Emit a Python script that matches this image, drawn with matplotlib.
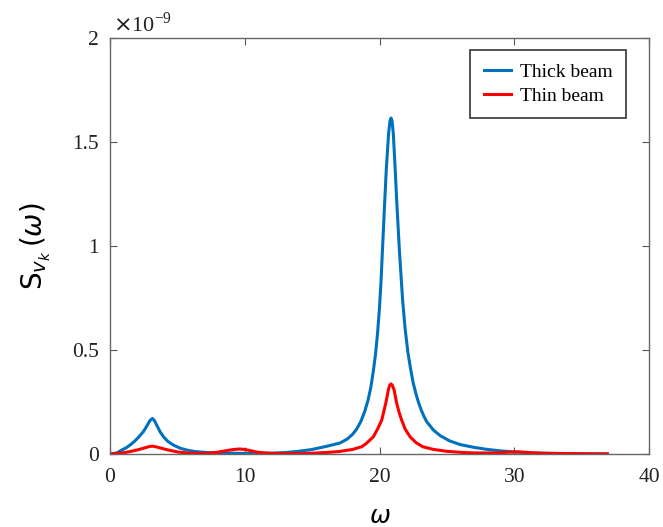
import matplotlib
matplotlib.use("Agg")
import matplotlib.pyplot as plt

# spectral density values, units of 1e-9
w_thick = [0, 0.5, 0.87, 1.2, 1.48, 1.8, 2.1, 2.47, 2.77, 2.95, 3.14, 3.3, 3.46, 3.71, 4.0,
           4.3, 4.7, 5.2, 5.7, 6.3, 7, 8, 9, 10, 11, 12, 13, 14, 15, 16, 17.07, 17.6, 18.0,
           18.3, 18.6, 18.9, 19.15, 19.35, 19.54, 19.7, 19.85, 19.99, 20.1, 20.2, 20.35, 20.5,
           20.67, 20.77, 20.85, 20.93, 21.02, 21.15, 21.27, 21.47, 21.71, 21.9, 22.1, 22.3,
           22.5, 22.7, 22.88, 23.1, 23.3, 23.5, 24.0, 24.5, 25.2, 26, 27, 28, 29, 30, 31, 32,
           33, 34, 35, 36, 36.9]
s_thick = [0, 0.005, 0.019, 0.03, 0.043, 0.06, 0.08, 0.107, 0.139, 0.16, 0.171, 0.16, 0.139,
           0.107, 0.08, 0.06, 0.043, 0.028, 0.019, 0.012, 0.008, 0.005, 0.004, 0.003, 0.003,
           0.004, 0.007, 0.013, 0.022, 0.036, 0.053, 0.072, 0.095, 0.12, 0.155, 0.205, 0.26,
           0.32, 0.40, 0.48, 0.58, 0.70, 0.82, 0.96, 1.17, 1.37, 1.54, 1.60, 1.615, 1.60,
           1.54, 1.38, 1.22, 0.98, 0.74, 0.60, 0.49, 0.41, 0.34, 0.29, 0.25, 0.21, 0.18,
           0.155, 0.115, 0.088, 0.063, 0.045, 0.032, 0.022, 0.015, 0.01, 0.006, 0.004, 0.003,
           0.002, 0.001, 0.0005, 0]

w_thin = [0, 1.0, 1.5, 1.98, 2.5, 2.85, 3.14, 3.45, 3.9, 4.33, 5.0, 5.7, 6.5, 7.3, 8, 8.7, 9.2,
          9.6, 10.0, 10.5, 11, 12, 13, 14, 15, 16, 17, 18, 18.67, 19.0, 19.54, 19.85, 20.16,
          20.46, 20.65, 20.75, 20.85, 20.95, 21.08, 21.27, 21.45, 21.64, 21.9, 22.26, 22.7,
          23.2, 24, 25, 26, 27, 28, 29, 29.7, 30.2, 30.7, 31.5, 32.5, 34, 35.5, 36.9]
s_thin = [0, 0.006, 0.012, 0.019, 0.028, 0.035, 0.038, 0.034, 0.026, 0.019, 0.01, 0.005,
          0.003, 0.004, 0.009, 0.017, 0.022, 0.024, 0.022, 0.015, 0.008, 0.003, 0.002, 0.002,
          0.004, 0.007, 0.012, 0.022, 0.035, 0.05, 0.083, 0.12, 0.163, 0.244, 0.308, 0.33,
          0.337, 0.33, 0.308, 0.244, 0.20, 0.163, 0.12, 0.083, 0.055, 0.035, 0.022, 0.013,
          0.008, 0.005, 0.005, 0.006, 0.009, 0.01, 0.009, 0.005, 0.003, 0.002, 0.001, 0.0005]

xticks = [0, 10, 20, 30, 40]
yticks = [0, 0.5, 1, 1.5, 2]
ytick_labels = ["0", "0.5", "1", "1.5", "2"]

plt.rcParams["font.family"] = ["Liberation Serif", "DejaVu Serif"]

fig = plt.figure(figsize=(6.63, 5.27), dpi=100)
ax = fig.add_axes([0.166, 0.1385, 0.813, 0.7895])

ax.plot(w_thick, s_thick, color="#0072BD", lw=2.2, label="Thick beam",
        solid_joinstyle="round")
ax.plot(w_thin, s_thin, color="#FF0000", lw=2.2, label="Thin beam",
        solid_joinstyle="round")

ax.set_xlim(0, 40)
ax.set_ylim(0, 2)
ax.set_xticks(xticks)
ax.set_xticklabels([str(t) for t in xticks])
ax.set_yticks(yticks)
ax.set_yticklabels(ytick_labels)
ax.tick_params(direction="in", length=5, width=0.8, colors="#555555", labelcolor="#222222",
               labelsize=15.5, top=True, right=True)
ax.tick_params(axis="x", pad=10)
ax.tick_params(axis="y", pad=8)
for sp in ax.spines.values():
    sp.set_color("#666666")
    sp.set_linewidth(1.0)

ax.text(0.005, 1.003, r"$\times$10$^{\mathregular{-9}}$", transform=ax.transAxes,
        fontsize=16, color="#222222", va="bottom", ha="left")

ax.set_ylabel(r"$\mathsf{S}_{v_k}\,(\omega)$", fontsize=20, labelpad=14,
              family="DejaVu Sans")
ax.set_xlabel(r"$\omega$", fontsize=18, labelpad=14)

leg = ax.legend(loc="upper right", bbox_to_anchor=(0.957, 0.971), borderaxespad=0,
                fontsize=14, frameon=True, fancybox=False, edgecolor="black",
                handlelength=1.4, handletextpad=0.45, borderpad=0.7, labelspacing=0.3)
leg.get_frame().set_linewidth(1.2)

fig.savefig("out.png", dpi=100)
